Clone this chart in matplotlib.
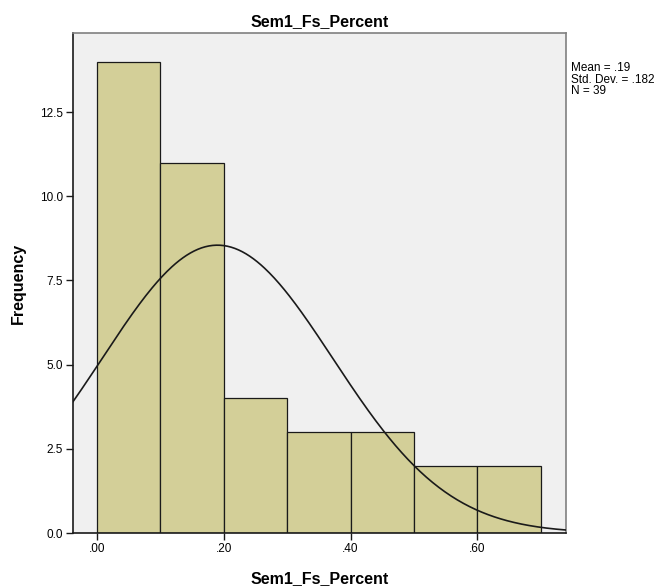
import numpy as np
import matplotlib
matplotlib.use("Agg")
import matplotlib.pyplot as plt

# --- Données ---
bin_edges = [0.0, 0.1, 0.2, 0.3, 0.4, 0.5, 0.6, 0.7]
counts = [14, 11, 4, 3, 3, 2, 2]
mean = 0.19
std = 0.182
n = 39
x_ticks = [0.0, 0.2, 0.4, 0.6]
x_tick_labels = [".00", ".20", ".40", ".60"]
y_ticks = [0.0, 2.5, 5.0, 7.5, 10.0, 12.5]
y_tick_labels = ["0.0", "2.5", "5.0", "7.5", "10.0", "12.5"]

plt.rcParams["font.family"] = ["Liberation Sans", "DejaVu Sans"]

fig = plt.figure(figsize=(6.69, 5.88), dpi=100)
ax = fig.add_axes([73 / 669, 1 - 533 / 588, (566 - 73) / 669, (533 - 33) / 588])
ax.set_facecolor("#f0f0f0")

widths = np.diff(bin_edges)
ax.bar(bin_edges[:-1], counts, width=widths, align="edge",
       color="#d3cf98", edgecolor="#1a1a1a", linewidth=0.9, zorder=2)

# --- Courbe normale ---
xmin, xmax = -0.038, 0.74
xs = np.linspace(xmin, xmax, 400)
bw = bin_edges[1] - bin_edges[0]
ys = n * bw / (std * np.sqrt(2 * np.pi)) * np.exp(-0.5 * ((xs - mean) / std) ** 2)
ax.plot(xs, ys, color="#1a1a1a", linewidth=1.2, zorder=3)

ax.set_xlim(xmin, xmax)
ax.set_ylim(0, 14.85)
ax.set_xticks(x_ticks)
ax.set_xticklabels(x_tick_labels)
ax.set_yticks(y_ticks)
ax.set_yticklabels(y_tick_labels)
ax.tick_params(axis="both", direction="out", length=5, width=1, labelsize=8.5,
               color="#1a1a1a", pad=2)

for side in ["top", "right"]:
    ax.spines[side].set_color("#808080")
    ax.spines[side].set_linewidth(1.2)
for side in ["left", "bottom"]:
    ax.spines[side].set_color("#1a1a1a")
    ax.spines[side].set_linewidth(1.2)

ax.set_title("Sem1_Fs_Percent", fontsize=11.5, fontweight="bold", pad=5)
ax.set_xlabel("Sem1_Fs_Percent", fontsize=11.5, fontweight="bold", labelpad=12)
ax.set_ylabel("Frequency", fontsize=11.5, fontweight="bold", labelpad=10)

fig.text(571 / 669, 1 - 62 / 588,
         f"Mean = .19\nStd. Dev. = .182\nN = {n}",
         fontsize=8.5, va="top", ha="left", linespacing=0.95)

fig.savefig("out.png", dpi=100)
